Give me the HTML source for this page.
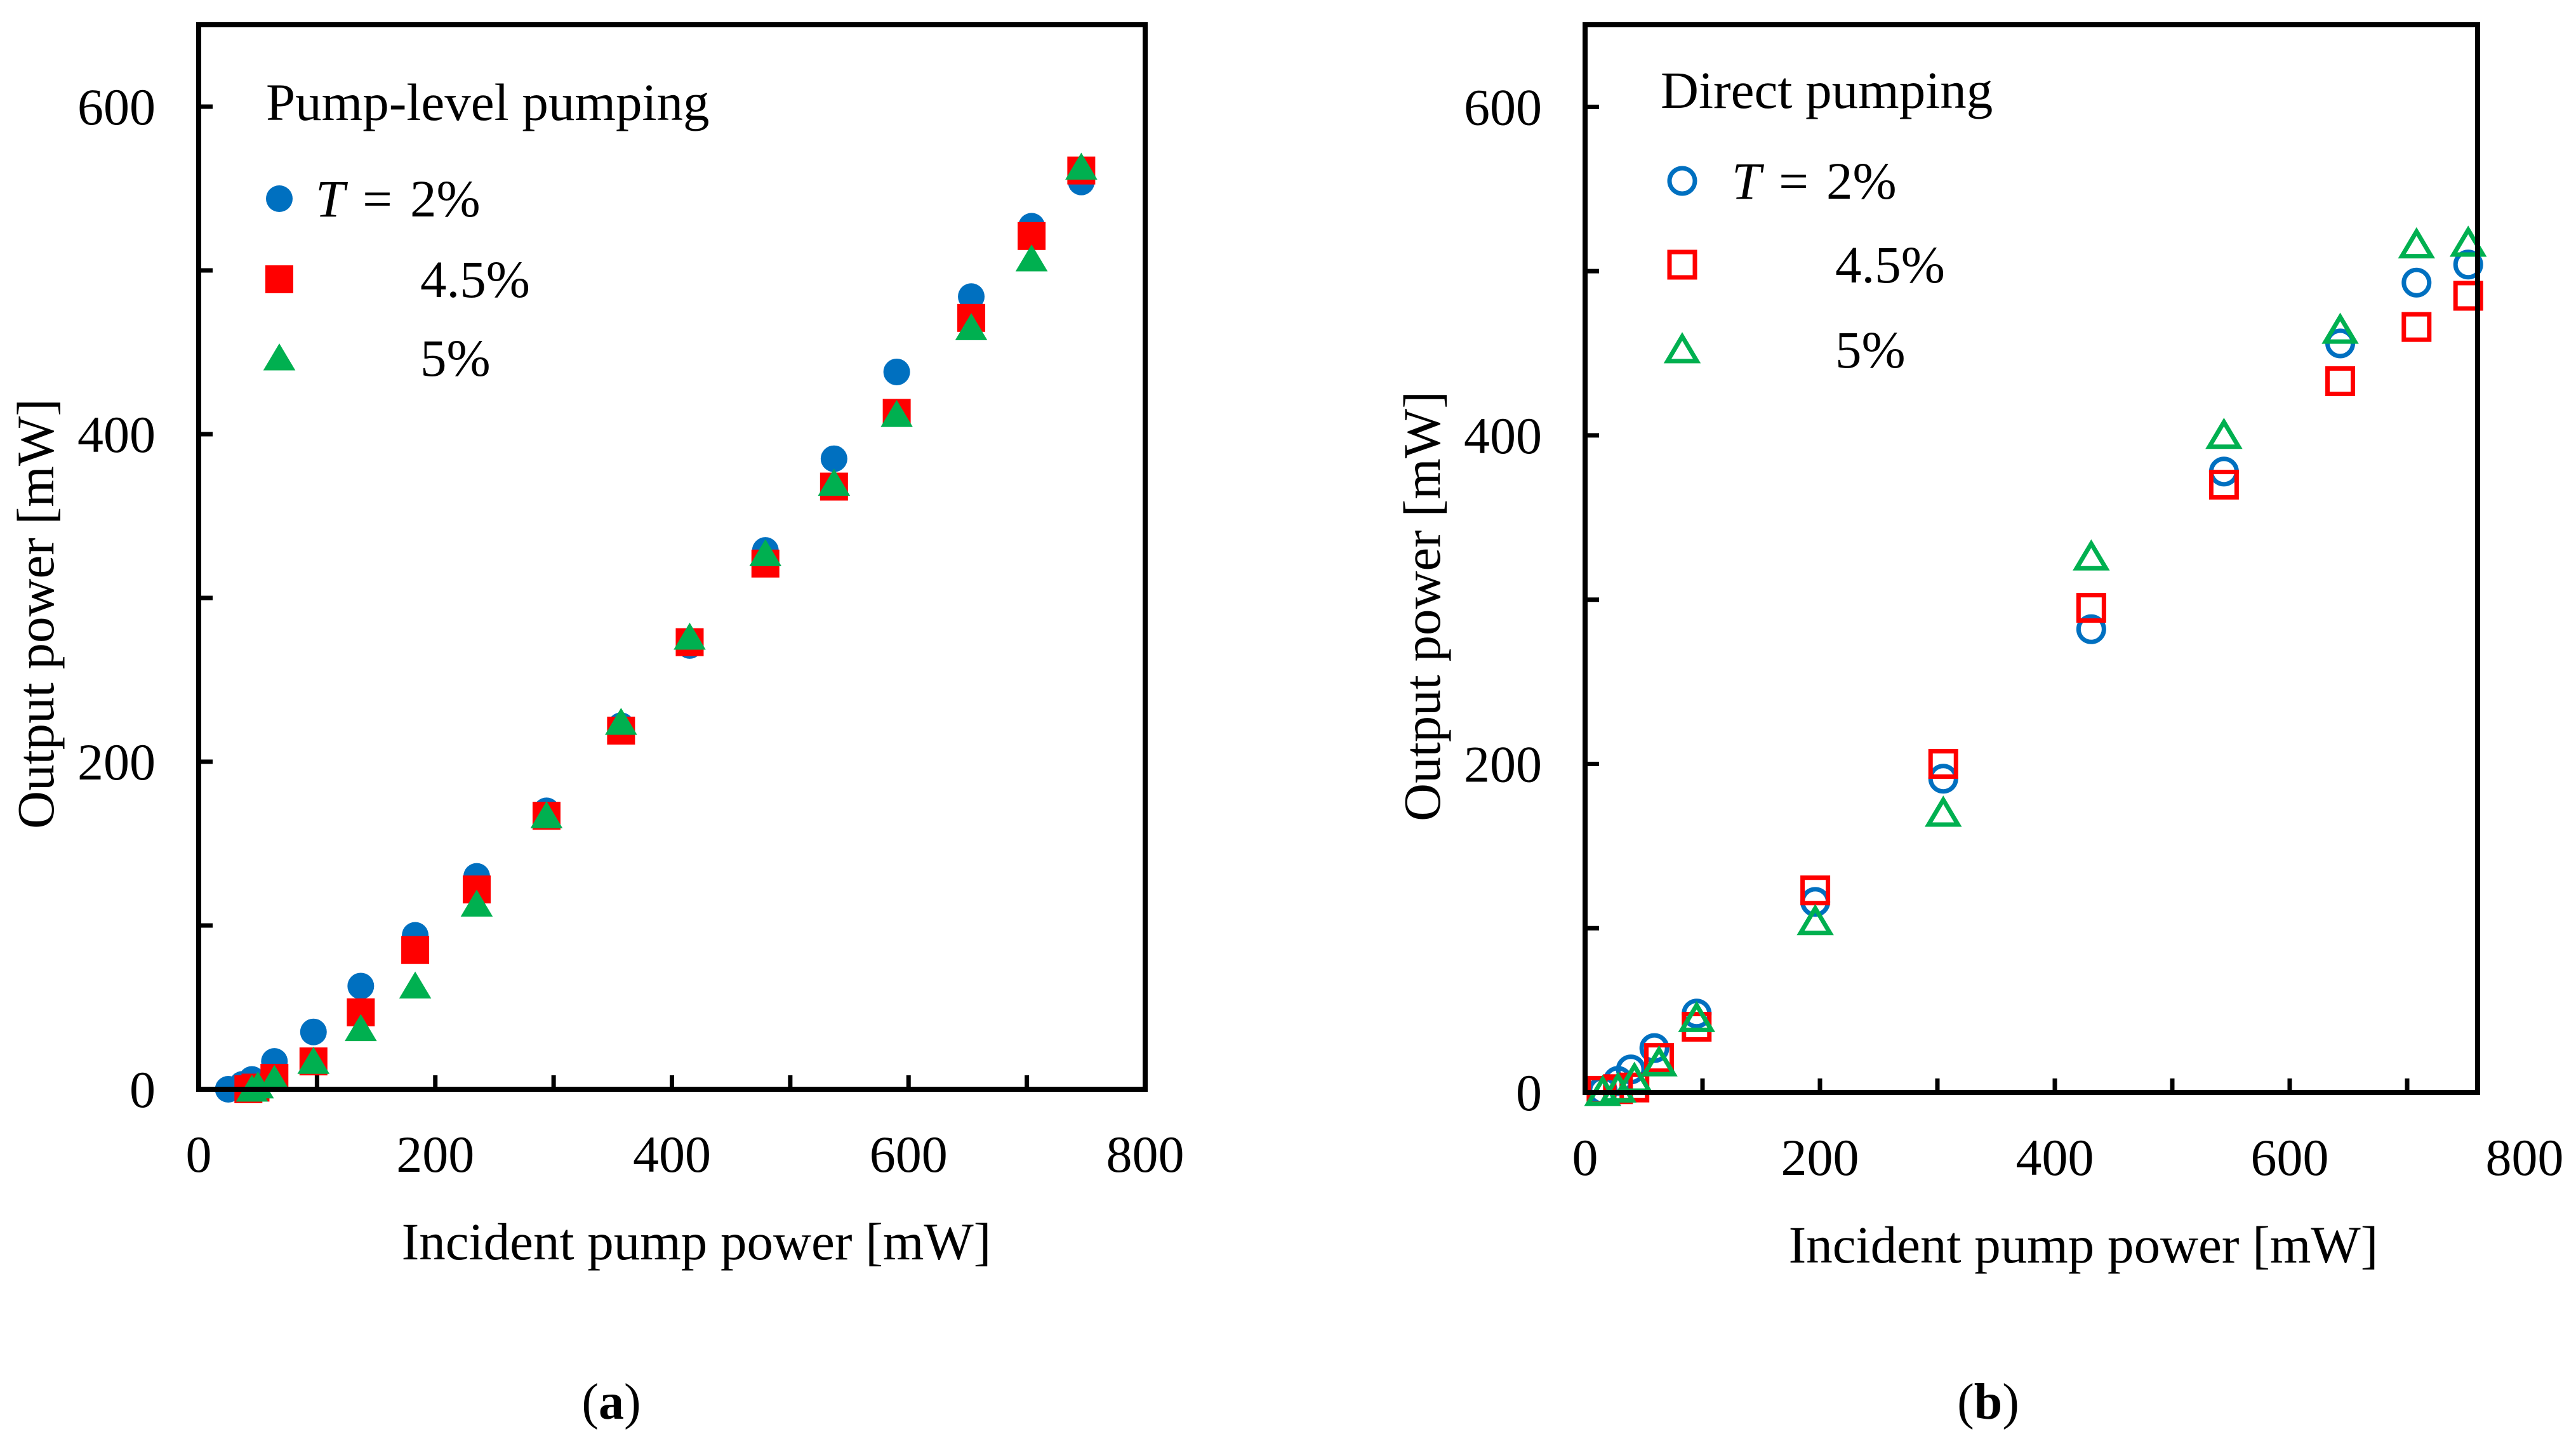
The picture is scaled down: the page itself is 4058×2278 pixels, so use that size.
<!DOCTYPE html>
<html><head><meta charset="utf-8"><style>
html,body{margin:0;padding:0;background:#fff}
svg{display:block}
text{font-family:"Liberation Serif",serif;fill:#000}
</style></head><body>
<svg id="chart" width="4058" height="2278" viewBox="0 0 4058 2278" xmlns="http://www.w3.org/2000/svg">
<g id="pa"></g>
<g id="pb"></g>
<text x="963" y="2235" font-size="80" text-anchor="middle">(<tspan font-weight="bold">a</tspan>)</text>
<text x="3132" y="2235" font-size="80" text-anchor="middle">(<tspan font-weight="bold">b</tspan>)</text>
</svg>
<script>
const NS='http://www.w3.org/2000/svg';
// Panel a data
const aBlueX=[25,37,45,64,97,137,183,235,294,357,415,479,537,590,653,704,746];
const aBlueY=[0,3,6,17,35,63,94,130,170,222,271,329,385,438,484,527,554];
const aRedX=[42,48,64,97,137,183,235,294,357,415,479,537,590,653,704,746];
const aRedY=[0,1,7,17,47,85,122,167,219,273,321,368,413,471,521,561];
const aGreenX=[45,50,64,97,137,183,235,294,357,415,479,537,590,653,704,746];
const aGreenY=[0,2,6,17,37,63,113,167,224,276,327,370,412,465,507,563];
// Panel b data
const bBlueX=[15,28,39,59,95,196,305,431,544,643,708,752];
const bBlueY=[1,7,14,27,48,116,191,282,378,456,493,504];
const bRedX=[14,28,42,63,95,196,305,431,544,643,708,752];
const bRedY=[1,2,3,21,40,123,200,295,370,433,466,485];
const bGreenX=[15,28,42,63,95,196,305,431,544,643,708,752];
const bGreenY=[0,2,8,18,45,104,170,326,400,464,516,517];
const xTicks=[0,200,400,600,800];
const yTicks=[0,200,400,600];

function el(tag,attrs,parent){const e=document.createElementNS(NS,tag);for(const k in attrs)e.setAttribute(k,attrs[k]);parent.appendChild(e);return e;}

function panel(g,o){
  const sx=v=>o.L+(v/o.xmax)*(o.R-o.L);
  const sy=v=>o.B-(v/o.ymax)*(o.B-o.T);
  for(let v=100;v<=o.xmax;v+=100){
    const t=el('line',{x1:sx(v),x2:sx(v),y1:o.B,y2:o.B-22,stroke:'#000','stroke-width':7},g);
    
    
  }
  for(let v=100;v<=600;v+=100){
    const t=el('line',{x1:o.L,x2:o.L+22,y1:sy(v),y2:sy(v),stroke:'#000','stroke-width':7},g);
    
    
  }
  xTicks.forEach(v=>{
    const t=el('text',{x:sx(v),y:o.B+130,'font-size':82,'text-anchor':'middle'},g);t.textContent=v;
    
    
  });
  yTicks.forEach(v=>{
    const t=el('text',{x:o.L-68,y:sy(v)+28,'font-size':82,'text-anchor':'end'},g);t.textContent=v;
    
    
  });
  const xt=el('text',{x:o.xtX,y:o.B+268,'font-size':83,'text-anchor':'middle'},g);xt.textContent='Incident pump power [mW]';
  
  
  const yt=el('text',{x:0,y:0,'font-size':83,'text-anchor':'middle',transform:`translate(${o.yx},${o.ytY}) rotate(-90)`},g);yt.textContent='Output power [mW]';
  
  
  const blue='#0070C0',red='#FF0000',green='#00B050';
  function circ(x,y,n){const c=el('circle',o.open?{cx:x,cy:y,r:20,fill:'none',stroke:blue,'stroke-width':7}:{cx:x,cy:y,r:21,fill:blue},g);}
  function sq(x,y,n){const s=o.open?20:22;const c=el('rect',o.open?{x:x-s,y:y-s,width:2*s,height:2*s,fill:'none',stroke:red,'stroke-width':7}:{x:x-s,y:y-s,width:2*s,height:2*s,fill:red},g);}
  function tri(x,y,n){const h=o.open?21:23;const pts=`${x},${y-h} ${x+h*1.1},${y+h*0.85} ${x-h*1.1},${y+h*0.85}`;const c=el('polygon',o.open?{points:pts,fill:'none',stroke:green,'stroke-width':7}:{points:pts,fill:green},g);}
  o.bx.forEach((v,i)=>circ(sx(v),sy(o.by[i]),'point-t2'));
  o.rx.forEach((v,i)=>sq(sx(v),sy(o.ry[i]),'point-t4-5'));
  o.gx.forEach((v,i)=>tri(sx(v),sy(o.gy[i]),'point-t5'));
  const f=el('rect',{x:o.L,y:o.T,width:o.R-o.L,height:o.B-o.T,fill:'none',stroke:'#000','stroke-width':8},g);
  
  
  const lt=el('text',{x:o.lgX,y:o.lgY,'font-size':83},g);lt.textContent=o.title;
  
  
  circ(o.mX,o.mY[0],'legend-marker-t2');sq(o.mX,o.mY[1],'legend-marker-t4-5');tri(o.mX,o.mY[2],'legend-marker-t5');
  const l1=el('text',{x:o.tX,y:o.mY[0]+28,'font-size':83},g);l1.innerHTML='<tspan font-style="italic">T</tspan><tspan dx="28">=</tspan><tspan dx="28">2%</tspan>';
  
  
  const l2=el('text',{x:o.t2X,y:o.mY[1]+28,'font-size':83},g);l2.textContent='4.5%';
  
  
  const l3=el('text',{x:o.t2X,y:o.mY[2]+28,'font-size':83},g);l3.textContent='5%';
  
  
}
panel(document.getElementById('pa'),{L:313,R:1804,T:39,B:1716,xmax:800,ymax:650,open:false,yx:84,ytY:967,xtX:1097,
  bx:aBlueX,by:aBlueY,rx:aRedX,ry:aRedY,gx:aGreenX,gy:aGreenY,
  title:'Pump-level pumping',lgX:419,lgY:189,mX:440,mY:[313,440,564],tX:497,t2X:662});
panel(document.getElementById('pb'),{L:2497,R:3903,T:39,B:1721,xmax:760,ymax:650,open:true,yx:2268,ytY:955,xtX:3282,
  bx:bBlueX,by:bBlueY,rx:bRedX,ry:bRedY,gx:bGreenX,gy:bGreenY,
  title:'Direct pumping',lgX:2616,lgY:170,mX:2650,mY:[285,417,551],tX:2728,t2X:2891});
</script>
</body></html>
